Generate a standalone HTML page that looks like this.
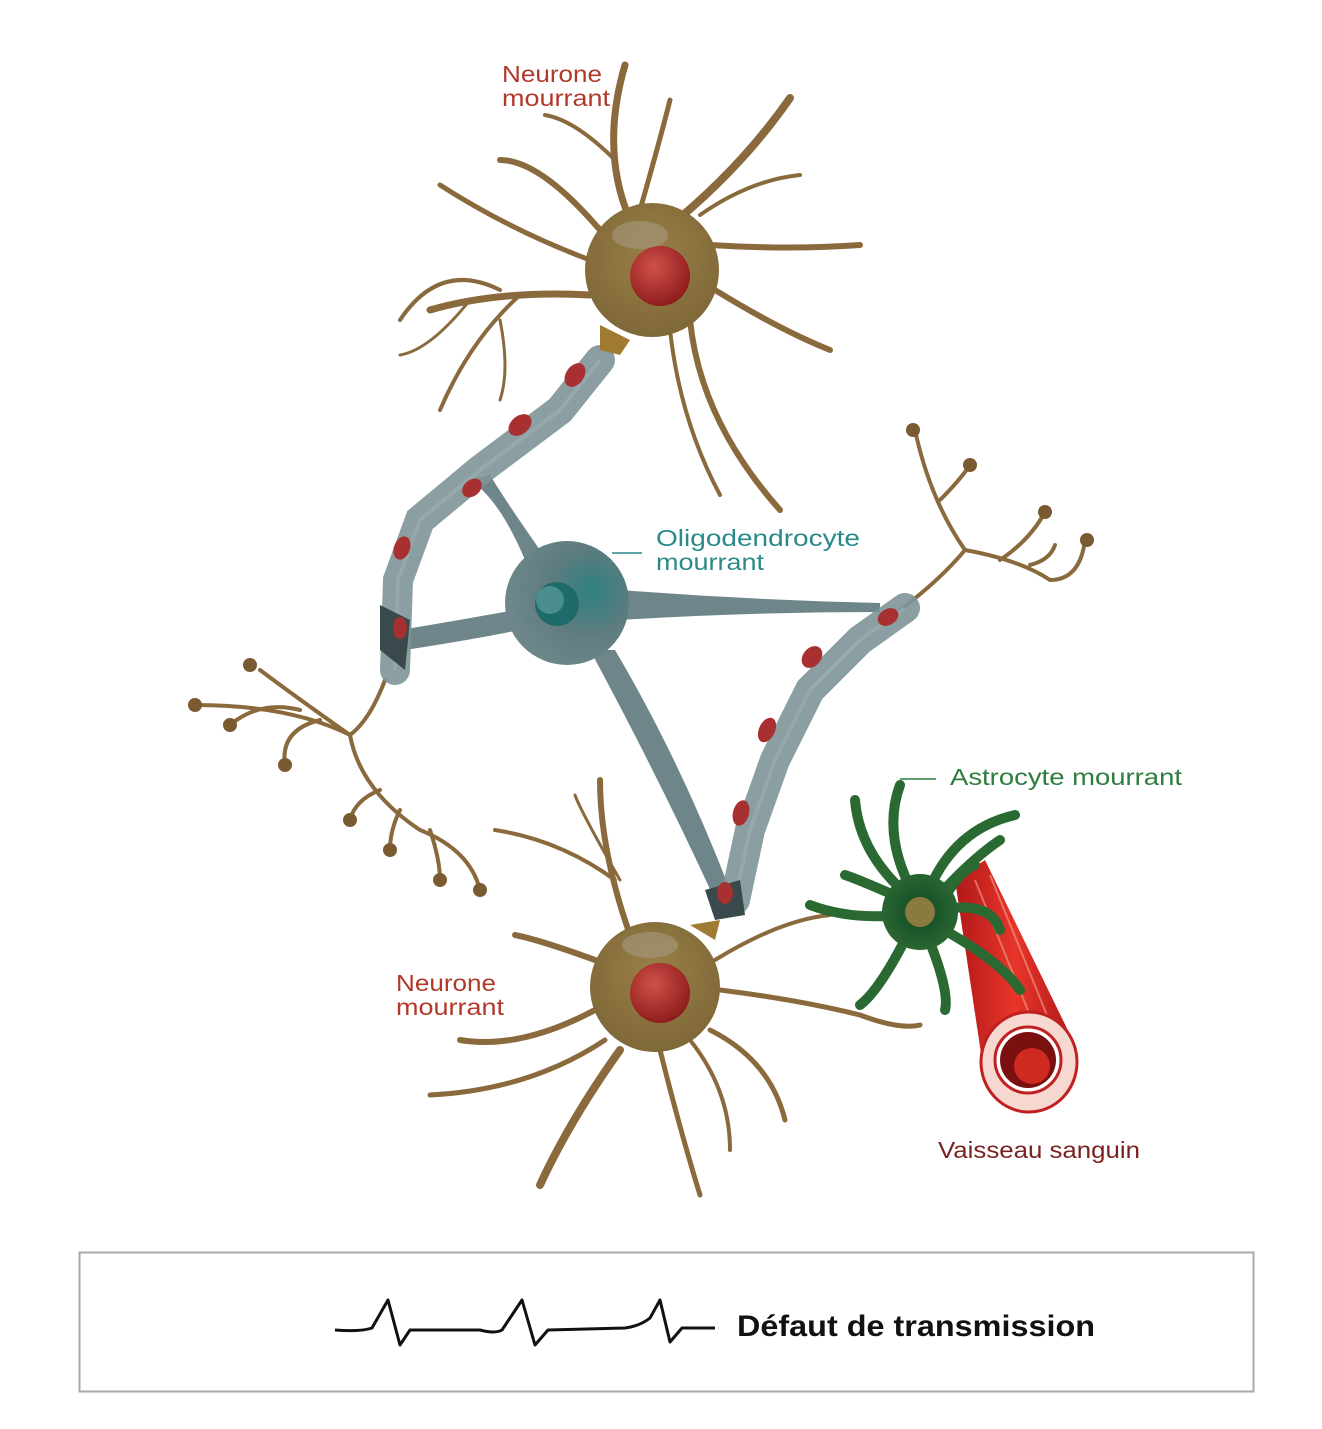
<!DOCTYPE html>
<html><head><meta charset="utf-8"><style>
html,body{margin:0;padding:0;background:#fff;}
svg{display:block;}
text{font-family:"Liberation Sans",sans-serif;}
</style></head><body>
<svg width="1322" height="1429" viewBox="0 0 1322 1429" xmlns="http://www.w3.org/2000/svg">
<defs>
<radialGradient id="nuc" cx="0.4" cy="0.35" r="0.7"><stop offset="0" stop-color="#d0504a"/><stop offset="1" stop-color="#8a1a1a"/></radialGradient>
<radialGradient id="soma" cx="0.5" cy="0.4" r="0.6"><stop offset="0" stop-color="#9a8048"/><stop offset="1" stop-color="#7f6838"/></radialGradient>
<radialGradient id="olig" cx="0.7" cy="0.4" r="0.7"><stop offset="0" stop-color="#2e8080"/><stop offset="0.5" stop-color="#5e7c80"/><stop offset="1" stop-color="#6e878b"/></radialGradient>
<radialGradient id="astro" cx="0.5" cy="0.5" r="0.6"><stop offset="0" stop-color="#0f4a25"/><stop offset="1" stop-color="#2f6a34"/></radialGradient>
<linearGradient id="vess" x1="0" y1="0" x2="1" y2="0"><stop offset="0" stop-color="#b01818"/><stop offset="0.5" stop-color="#e8352a"/><stop offset="1" stop-color="#b01818"/></linearGradient>
</defs>

<g stroke="#8a6a3c" fill="none" stroke-linecap="round">
<path d="M630 220 Q600 150 625 65" stroke-width="7"/>
<path d="M615 160 Q575 120 545 115" stroke-width="4"/>
<path d="M640 210 Q660 140 670 100" stroke-width="5"/>
<path d="M665 230 Q740 170 790 98" stroke-width="8"/>
<path d="M700 215 Q750 180 800 175" stroke-width="4"/>
<path d="M710 245 Q790 250 860 245" stroke-width="6"/>
<path d="M715 290 Q780 330 830 350" stroke-width="6"/>
<path d="M690 320 Q700 420 780 510" stroke-width="6"/>
<path d="M670 330 Q680 420 720 495" stroke-width="4"/>
<path d="M600 230 Q540 160 500 160" stroke-width="6"/>
<path d="M590 260 Q510 230 440 185" stroke-width="5"/>
<path d="M590 295 Q500 290 430 310" stroke-width="7"/>
<path d="M520 295 Q470 340 440 410" stroke-width="4"/>
<path d="M500 290 Q440 260 400 320" stroke-width="4"/>
<path d="M470 300 Q430 350 400 355" stroke-width="3"/>
<path d="M500 320 Q510 370 500 400" stroke-width="3"/>
</g>
<g stroke="#8a6a3c" fill="none" stroke-linecap="round">
<path d="M630 935 Q600 850 600 780" stroke-width="6"/>
<path d="M615 880 Q560 840 495 830" stroke-width="4"/>
<path d="M620 880 Q580 810 575 795" stroke-width="3"/>
<path d="M595 960 Q540 940 515 935" stroke-width="6"/>
<path d="M595 1010 Q520 1050 460 1040" stroke-width="6"/>
<path d="M605 1040 Q530 1090 430 1095" stroke-width="5"/>
<path d="M620 1050 Q570 1120 540 1185" stroke-width="8"/>
<path d="M660 1050 Q680 1130 700 1195" stroke-width="5"/>
<path d="M690 1040 Q730 1090 730 1150" stroke-width="4"/>
<path d="M710 1030 Q770 1060 785 1120" stroke-width="5"/>
<path d="M720 990 Q800 1000 860 1015 Q900 1030 920 1025" stroke-width="5"/>
<path d="M715 960 Q780 920 830 915" stroke-width="4"/>
</g>
<g stroke="#8a6a3c" fill="none" stroke-linecap="round" stroke-width="4">
<path d="M385 680 Q370 720 350 735 Q300 700 260 670"/>
<path d="M350 735 Q290 705 195 705"/>
<path d="M320 720 Q280 730 285 765"/>
<path d="M300 710 Q260 700 230 725"/>
<path d="M350 735 Q360 790 420 830 Q470 850 480 890"/>
<path d="M380 790 Q355 800 350 820"/>
<path d="M400 810 Q390 830 390 850"/>
<path d="M430 830 Q440 860 440 880"/>
<path d="M900 610 Q940 580 965 550 Q930 500 915 430"/>
<path d="M965 550 Q1020 560 1050 580 Q1080 580 1085 540"/>
<path d="M940 500 Q960 480 970 465"/>
<path d="M1000 560 Q1030 540 1045 512"/>
<path d="M1030 565 Q1050 560 1055 545"/>
</g>
<g fill="#7a5a30">
<circle cx="195" cy="705" r="7"/><circle cx="250" cy="665" r="7"/><circle cx="230" cy="725" r="7"/><circle cx="285" cy="765" r="7"/>
<circle cx="350" cy="820" r="7"/><circle cx="390" cy="850" r="7"/><circle cx="440" cy="880" r="7"/><circle cx="480" cy="890" r="7"/>
<circle cx="913" cy="430" r="7"/><circle cx="970" cy="465" r="7"/><circle cx="1045" cy="512" r="7"/><circle cx="1087" cy="540" r="7"/>
</g>

<g fill="#6e868a">
<path d="M470 480 Q500 500 525 560 L540 550 Q505 500 490 475 Z"/>
<path d="M400 630 Q460 620 515 610 L520 630 Q470 640 405 650 Z"/>
<path d="M620 590 Q750 600 880 603 L880 612 Q750 612 620 620 Z"/>
<path d="M590 650 Q660 780 715 900 L730 890 Q680 760 615 650 Z"/>
</g>
<circle cx="567" cy="603" r="62" fill="url(#olig)"/>
<circle cx="557" cy="604" r="22" fill="#1f6a6a"/>
<circle cx="550" cy="600" r="14" fill="#4a8e90"/>

<g stroke="#7e9498" stroke-width="30" fill="none" stroke-linecap="round" opacity="0.9">
<path d="M600 360 L560 410 L480 470 L420 520 L398 580 L395 670"/>
<path d="M905 608 L860 640 L810 690 L775 760 L750 830 L735 900"/>
</g>
<g stroke="#9aaeb2" stroke-width="4" fill="none" opacity="0.7">
<path d="M600 360 L560 410 L480 470 L420 520 L398 580 L395 670"/>
<path d="M905 608 L860 640 L810 690 L775 760 L750 830 L735 900"/>
</g>
<path d="M380 605 L410 620 L405 670 L380 650 Z" fill="#3a4a4c"/>
<path d="M705 890 L740 880 L745 915 L715 920 Z" fill="#3a4a4c"/>
<g fill="#a83030">
<ellipse cx="575" cy="375" rx="9" ry="13" transform="rotate(35 575 375)"/>
<ellipse cx="520" cy="425" rx="9" ry="13" transform="rotate(50 520 425)"/>
<ellipse cx="472" cy="488" rx="8" ry="11" transform="rotate(50 472 488)"/>
<ellipse cx="402" cy="548" rx="8" ry="12" transform="rotate(20 402 548)"/>
<ellipse cx="400" cy="628" rx="7" ry="11"/>
<ellipse cx="888" cy="617" rx="8" ry="11" transform="rotate(60 888 617)"/>
<ellipse cx="812" cy="657" rx="9" ry="12" transform="rotate(40 812 657)"/>
<ellipse cx="767" cy="730" rx="8" ry="13" transform="rotate(25 767 730)"/>
<ellipse cx="741" cy="813" rx="8" ry="13" transform="rotate(15 741 813)"/>
<ellipse cx="725" cy="893" rx="8" ry="11"/>
</g>

<path d="M600 325 L630 340 L620 355 L600 350 Z" fill="#a07a30"/>
<circle cx="652" cy="270" r="67" fill="url(#soma)"/>
<ellipse cx="640" cy="235" rx="28" ry="14" fill="#a79a80" opacity="0.6"/>
<circle cx="660" cy="276" r="30" fill="url(#nuc)"/>
<path d="M690 925 L720 920 L715 940 Z" fill="#a07a30"/>
<circle cx="655" cy="987" r="65" fill="url(#soma)"/>
<ellipse cx="650" cy="945" rx="28" ry="13" fill="#a79a80" opacity="0.6"/>
<circle cx="660" cy="993" r="30" fill="url(#nuc)"/>

<path d="M955 880 L985 860 L1075 1045 L985 1080 Z" fill="url(#vess)"/>
<g stroke="#f0a090" stroke-width="2" opacity="0.6"><path d="M975 880 L1040 1040"/><path d="M990 875 L1055 1035"/></g>
<ellipse cx="1029" cy="1062" rx="48" ry="50" fill="#f7d8d0" stroke="#c02020" stroke-width="3"/>
<circle cx="1028" cy="1060" r="33" fill="#fff" stroke="#c02020" stroke-width="3"/>
<circle cx="1028" cy="1060" r="28" fill="#7a1010"/>
<circle cx="1032" cy="1066" r="18" fill="#d02a20"/>

<g stroke="#2a6a32" fill="none" stroke-linecap="round" stroke-width="10">
<path d="M920 905 Q880 840 900 785"/>
<path d="M920 905 Q860 860 855 800"/>
<path d="M925 900 Q950 830 1015 815"/>
<path d="M930 905 Q970 860 1000 840"/>
<path d="M940 910 Q990 900 1000 930"/>
<path d="M935 925 Q1000 960 1020 990"/>
<path d="M925 930 Q950 990 945 1010"/>
<path d="M910 930 Q880 990 860 1005"/>
<path d="M900 915 Q850 920 810 905"/>
<path d="M905 900 Q860 880 845 875"/>
<path d="M940 905 Q960 870 975 865"/>
</g>
<circle cx="920" cy="912" r="38" fill="url(#astro)"/>
<circle cx="920" cy="912" r="15" fill="#8a7a40"/>

<line x1="612" y1="553" x2="642" y2="553" stroke="#2a8a8a" stroke-width="1.5"/>
<line x1="900" y1="779" x2="936" y2="779" stroke="#2e7d3e" stroke-width="1.5"/>

<text x="502" y="82" font-size="23" fill="#b2382a" textLength="100" lengthAdjust="spacingAndGlyphs">Neurone</text>
<text x="502" y="106" font-size="23" fill="#b2382a" textLength="108" lengthAdjust="spacingAndGlyphs">mourrant</text>
<text x="656" y="546" font-size="23" fill="#2a8a8a" textLength="204" lengthAdjust="spacingAndGlyphs">Oligodendrocyte</text>
<text x="656" y="570" font-size="23" fill="#2a8a8a" textLength="108" lengthAdjust="spacingAndGlyphs">mourrant</text>
<text x="950" y="785" font-size="23" fill="#2e7d3e" textLength="232" lengthAdjust="spacingAndGlyphs">Astrocyte mourrant</text>
<text x="396" y="991" font-size="23" fill="#b2382a" textLength="100" lengthAdjust="spacingAndGlyphs">Neurone</text>
<text x="396" y="1015" font-size="23" fill="#b2382a" textLength="108" lengthAdjust="spacingAndGlyphs">mourrant</text>
<text x="938" y="1158" font-size="23" fill="#7a2222" textLength="202" lengthAdjust="spacingAndGlyphs">Vaisseau sanguin</text>

<rect x="79.5" y="1252.5" width="1174" height="139" fill="#fff" stroke="#aaaaaa" stroke-width="2"/>
<path d="M335 1330 Q360 1332 372 1328 L388 1300 L400 1345 L410 1330 L480 1330 Q495 1334 502 1330 L522 1300 L535 1345 L548 1330 L625 1328 Q640 1326 650 1318 L660 1300 L670 1342 L682 1328 L715 1328" stroke="#111" stroke-width="3" fill="none" stroke-linejoin="round"/>
<text x="737" y="1336" font-size="30" font-weight="bold" fill="#111" textLength="358" lengthAdjust="spacingAndGlyphs">Défaut de transmission</text>
</svg>
</body></html>
